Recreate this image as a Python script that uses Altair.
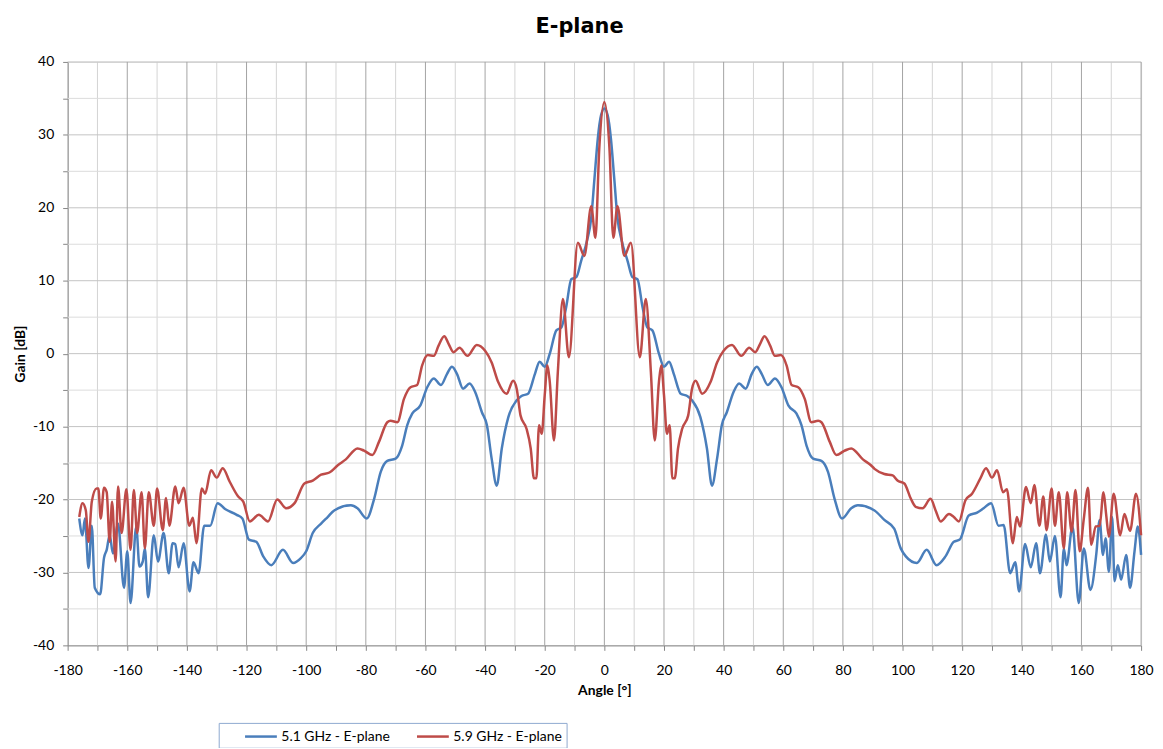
import altair as alt
import pandas as pd

FONT = "Lato"
TITLE_FONT = "DejaVu Sans"
S1 = "5.1 GHz - E-plane"
S2 = "5.9 GHz - E-plane"

# ---- 5.1 GHz (blue) ----
blue_neg_angle = [-176.1, -175, -174.2, -173, -171.9, -170.9, -169.1, -167.8, -166.9, -165.9,
                  -164.8, -163.1, -161.1, -160, -158.9, -157, -155.9, -154.8, -154.1, -153,
                  -151.1, -149.7, -147.8, -146.1, -144.8, -143.9, -142.8, -141.1, -139.1, -137.8,
                  -136.1, -134.2, -132.2, -129.7, -127.2, -123.3, -121.4, -119.2, -116.7, -114.4,
                  -111.7, -107.8, -104.4, -101.7, -100, -97.8, -95, -92.8, -90.6,
                  -85, -82.8, -79.7, -77.2, -75, -72.8, -70, -67.8, -66.1, -64.4,
                  -61.7, -59.4, -57.2, -54.8, -52.8, -51.1, -49.4, -47.4, -45.2, -43.3,
                  -41.1, -39.4, -37.8, -36.1, -34.4, -32.2, -29.4, -27.8, -25.6, -23.3,
                  -21.7, -20, -18.3, -16.1, -14.4, -12.8, -11.1, -9.4, -7.8, -5.8,
                  -4.4, -3.3, -2.2, -1.1]
blue_neg_gain = [-22.6, -24.9, -22.6, -29.4, -23.6, -32.1, -33, -28, -26.9, -24.9,
                 -27.4, -23.3, -32.1, -27.1, -34.2, -23.7, -29.2, -28.5, -26.7, -33.4,
                 -24.9, -28.5, -24.6, -30.1, -26, -26.1, -29.3, -26, -32.6, -28.6,
                 -30.1, -23.6, -23.6, -20.5, -21.3, -22.1, -22.6, -25.5, -25.8, -27.8,
                 -29, -26.9, -28.7, -28, -27.1, -24.6, -23.3, -22.4, -21.5,
                 -20.8, -21.2, -22.6, -19.9, -16.2, -14.7, -14.4, -12.6, -9.8, -8.2,
                 -7.1, -4.6, -3.4, -4.3, -2.8, -1.8, -2.8, -4.8, -4.1, -5.3,
                 -8, -9.8, -14.4, -18.1, -13, -8.7, -6.4, -5.8, -5.5, -2.8,
                 -1.1, -1.8, 0, 3.2, 3.6, 6.4, 10.2, 10.5, 12.7, 15.5,
                 18.6, 24.1, 29.5, 32.7]
blue_pos_angle = [0, 1.1, 2.2, 3.3, 4.4, 5.8, 7.8, 9.4, 11.1, 12.8,
                  14.4, 16.1, 18.3, 20, 21.7, 23.3, 25.6, 27.8, 29.4, 32.2,
                  34.4, 36.1, 37.8, 39.4, 41.1, 43.3, 45.2, 47.4, 49.4, 51.1,
                  52.8, 54.8, 57.2, 59.4, 61.7, 64.4, 66.1, 67.8, 70, 72.8,
                  75, 77.2, 79.7, 82.8, 85,
                  90.6, 93.9, 97.2, 99.4, 101.1, 104.8, 108.1, 111.4, 114.4, 117.2,
                  119.2, 122.2, 125, 127.2, 129.7, 132.2, 133.9, 136.1, 137.8, 139.1,
                  141.1, 143, 144.8, 146.1, 148.1, 149.4, 151.1, 153, 154.1, 155,
                  157, 159.1, 160.8, 163, 165, 166.1, 167.2, 168.1, 169.2, 170.3,
                  171.1, 172.2, 173.3, 175, 176.3, 177.8, 178.9, 180]
blue_pos_gain = [33.6, 32.7, 29.5, 24.1, 18.6, 15.5, 12.7, 10.5, 10.2, 6.4,
                 3.6, 3.2, 0, -1.8, -1.1, -2.8, -5.5, -5.8, -6.4, -8.7,
                 -13, -18.1, -14.4, -9.8, -8, -5.3, -4.1, -4.8, -2.8, -1.8,
                 -2.8, -4.3, -3.4, -4.6, -7.1, -8.2, -9.8, -12.6, -14.4, -14.7,
                 -16.2, -19.9, -22.6, -21.2, -20.8,
                 -21.5, -22.8, -24, -26.7, -27.8, -28.7, -26.9, -29, -27.8, -25.8,
                 -25.5, -22.2, -21.8, -21.2, -20.5, -23.6, -23.5, -30.1, -28.6, -32.6,
                 -26.1, -29.3, -26, -30.1, -24.8, -28.5, -25, -33.4, -26.7, -29,
                 -23.7, -34.2, -26.7, -32.4, -27.4, -22.8, -27.6, -25.3, -29.9, -22.4,
                 -31.2, -29, -31, -27.6, -32.1, -27.1, -23.7, -27.6]

# ---- 5.9 GHz (red) ----
red_neg_angle = [-176.1, -175, -173.9, -173, -171.9, -170.3, -169.7, -168.9, -167.8, -166.9,
                 -165.9, -165.1, -163.9, -163.1, -161.9, -160.3, -158.9, -157.8, -156.7, -155.2,
                 -154.1, -152.8, -151.1, -150, -148.1, -147, -145.9, -143.9, -142.8, -141.1,
                 -139.2, -138, -136.8, -135, -133.9, -131.9, -130, -128, -125.6, -122.8,
                 -121.1, -118.9, -115.9, -112.8, -109.7, -106.7, -103.9, -100.6, -97.8, -95,
                 -92.2,
                 -89.4, -86.7, -82.8, -80.6, -77.8, -75.6, -72.8, -71.7, -69.4, -67.2,
                 -65, -62.8, -61.1, -59.2, -57.2, -55.6, -53.7, -52.2, -50.6, -48.6,
                 -45.9, -42.8, -40, -37.8, -35.6, -32.8, -30.6, -29.4, -28.1, -26.1,
                 -24.7, -23.6, -22.8, -21.9, -21, -20, -19.1, -18.3, -16.9, -15.6,
                 -13.9, -11.9, -8.9, -6.7, -4.4, -3, -1.7]
red_neg_gain = [-22.4, -20.5, -21.5, -25.8, -20.3, -18.5, -18.5, -22.6, -18.4, -19,
                -25.8, -20.3, -28.5, -18.2, -24.6, -18.6, -26.9, -18.7, -24.6, -19,
                -26.7, -19, -23.6, -18.5, -24.2, -19.8, -23.6, -18.2, -20.5, -18.4,
                -23.6, -22.5, -26, -18.5, -19.2, -16, -17, -15.7, -17.6, -19.6,
                -20.3, -23, -22.1, -23, -20, -21.2, -20.5, -17.8, -17.4, -16.6,
                -16.3,
                -15.3, -14.5, -13, -13.3, -13.9, -12.1, -9.4, -9.2, -9.4, -6.2,
                -4.6, -4.3, -1.6, -0.2, -0.3, 1.1, 2.4, 1.3, 0.2, 0.8,
                -0.3, 1.2, 0.4, -1.2, -3.9, -5.5, -3.7, -4.8, -8.5, -10.3,
                -13, -17.1, -17.1, -9.8, -11, -5.7, -1.6, -3.9, -11.9, -2.5,
                7.5, -0.5, 15.2, 13.4, 20.2, 15.9, 28.2]
red_pos_angle = [0, 1.7, 3, 4.4, 6.7, 8.9, 11.9, 13.9, 15.6, 16.9,
                 18.3, 19.1, 20, 21, 21.9, 22.8, 23.6, 24.7, 26.1, 28.1,
                 29.4, 30.6, 32.8, 35.6, 37.8, 40, 42.8, 45.9, 48.6, 50.6,
                 52.2, 53.7, 55.6, 57.2, 59.2, 61.1, 62.8, 65, 67.2, 69.4,
                 71.7, 72.8, 75.6, 77.8, 80.6, 82.8, 86.7, 89.4,
                 90.6, 93.9, 96.7, 98.3, 100.6, 102.8, 104.4, 106.7, 109.4, 111.1,
                 112.8, 115.6, 117.2, 118.9, 121.1, 123.3, 126.1, 128, 130, 131.7,
                 133.7, 135, 137, 138.3, 139.4, 141.4, 143, 144.2, 145.9, 147.2,
                 148.3, 150, 151.1, 152.4, 154.1, 155.2, 156.7, 158, 159.4, 160.8,
                 162.2, 163.3, 164.8, 166.1, 167.4, 168.3, 169.2, 170.8, 173, 174.4,
                 176.3, 178.3, 180]
red_pos_gain = [34.5, 28.2, 15.9, 20.2, 13.4, 15.2, -0.5, 7.5, -2.5, -11.9,
                -3.9, -1.6, -5.7, -11, -9.8, -17.1, -17.1, -13, -10.3, -8.5,
                -4.8, -3.7, -5.5, -3.9, -1.2, 0.4, 1.2, -0.3, 0.8, 0.2,
                1.3, 2.4, 1.1, -0.3, -0.2, -1.6, -4.3, -4.6, -6.2, -9.4,
                -9.2, -9.4, -12.1, -13.9, -13.3, -13, -14.5, -15.3,
                -15.8, -16.5, -16.7, -17.4, -17.8, -19.9, -21, -21.2, -19.9, -21.5,
                -23, -22, -22.4, -23, -20.1, -19.2, -17.1, -15.7, -17, -16,
                -19, -18.6, -26, -22.4, -23.7, -18.3, -20.5, -18, -23.6, -19.6,
                -24.2, -18.5, -23.6, -19, -26.7, -19, -24.4, -18.7, -27.1, -22.6,
                -18.4, -26.2, -23.7, -23.6, -19, -22.1, -25.1, -19.2, -24.9, -22,
                -24.3, -19.2, -24.9]

# axis / grid values
x_ticks = list(range(-180, 181, 10))
y_ticks = list(range(-40, 41, 5))
x_major_grid = list(range(-160, 181, 20))
x_minor_grid = list(range(-170, 180, 20))
y_major_grid = list(range(-30, 41, 10))
y_minor_grid = list(range(-35, 40, 10))

assert len(blue_neg_angle) == len(blue_neg_gain)
assert len(blue_pos_angle) == len(blue_pos_gain)
assert len(red_neg_angle) == len(red_neg_gain)
assert len(red_pos_angle) == len(red_pos_gain)

rows = []
for a, g in zip(blue_neg_angle + blue_pos_angle, blue_neg_gain + blue_pos_gain):
    rows.append({"angle": a, "gain": g, "series": S1})
for a, g in zip(red_neg_angle + red_pos_angle, red_neg_gain + red_pos_gain):
    rows.append({"angle": a, "gain": g, "series": S2})
df = pd.DataFrame(rows)

x_scale = alt.Scale(domain=[-180, 180], nice=False, zero=False)
y_scale = alt.Scale(domain=[-40, 40], nice=False, zero=False)

x_axis = alt.Axis(values=x_ticks, labelExpr="datum.value % 20 == 0 ? '' + datum.value : ''",
                  grid=False, tickSize=5, tickColor="#868686", domainColor="#868686",
                  labelFont=FONT, labelFontSize=14, labelColor="#000000", labelPadding=13,
                  labelFlush=False, labelOverlap=False,
                  titleFont=FONT, titleFontSize=14, titleFontWeight="bold", titleColor="#000000",
                  titlePadding=6)
y_axis = alt.Axis(values=y_ticks, labelExpr="datum.value % 10 == 0 ? '' + datum.value : ''",
                  grid=False, tickSize=5, tickColor="#868686", domainColor="#868686",
                  labelFont=FONT, labelFontSize=14, labelColor="#000000", labelPadding=9,
                  labelFlush=False, labelOverlap=False,
                  titleFont=FONT, titleFontSize=14, titleFontWeight="bold", titleColor="#000000",
                  titlePadding=5)


def xenc(field):
    return alt.X(field, type="quantitative", scale=x_scale, axis=x_axis, title="Angle [°]")


def yenc(field):
    return alt.Y(field, type="quantitative", scale=y_scale, axis=y_axis, title="Gain [dB]")


xminor = alt.Chart(pd.DataFrame({"v": x_minor_grid})).mark_rule(color="#d4d4d4", strokeWidth=1).encode(x=xenc("v"))
xmajor = alt.Chart(pd.DataFrame({"v": x_major_grid})).mark_rule(color="#a3a3a3", strokeWidth=1).encode(x=xenc("v"))
yminor = alt.Chart(pd.DataFrame({"v": y_minor_grid})).mark_rule(color="#dcdcdc", strokeWidth=1).encode(y=yenc("v"))
ymajor = alt.Chart(pd.DataFrame({"v": y_major_grid})).mark_rule(color="#c4c4c4", strokeWidth=1).encode(y=yenc("v"))

lines = alt.Chart(df).mark_line(interpolate="monotone", strokeWidth=2.5).encode(
    x=xenc("angle"),
    y=yenc("gain"),
    color=alt.Color("series:N",
                    scale=alt.Scale(domain=[S1, S2], range=["#4A7EBB", "#BE4B48"]),
                    legend=alt.Legend(orient="none", legendX=152, legendY=665,
                                      direction="horizontal", title=None,
                                      symbolType="M-2,0H2", symbolSize=256,
                                      symbolStrokeWidth=2.5, symbolOffset=29,
                                      labelFont=FONT, labelFontSize=14, labelColor="#000000",
                                      labelOffset=11,
                                      strokeColor="#8EA9D0", padding=4,
                                      columnPadding=4)),
)

chart = alt.layer(xminor, yminor, ymajor, xmajor, lines).properties(
    width=1080, height=587,
    title=alt.TitleParams("E-plane", font=TITLE_FONT, fontSize=21, fontWeight="bold",
                          color="#000000", offset=18, anchor="middle", dx=-25),
    autosize=alt.AutoSizeParams(type="none"),
    padding={"left": 60, "top": 52, "right": 14, "bottom": 101},
).configure_view(stroke=None).configure(background="white")

chart.save("out.html", embed_options={"renderer": "svg", "actions": False})
